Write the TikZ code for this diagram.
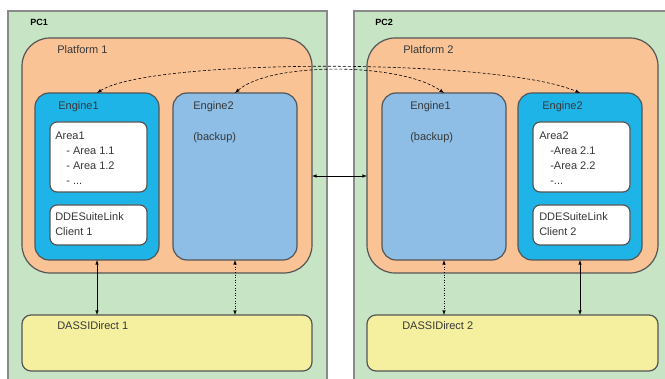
\documentclass[tikz,border=0pt]{standalone}
\usepackage{fontspec}
\setmainfont{Liberation Sans}
\usepackage{tikz}
\usetikzlibrary{positioning}
\usetikzlibrary{arrows}

\definecolor{pcgreen}{RGB}{199,228,197}
\definecolor{pcgray}{RGB}{138,138,138}
\definecolor{boxgray}{RGB}{85,85,85}
\definecolor{platorange}{RGB}{250,195,150}
\definecolor{enginecyan}{RGB}{30,180,232}
\definecolor{backupblue}{RGB}{142,190,230}
\definecolor{dassiyellow}{RGB}{244,240,160}
\definecolor{txtgray}{RGB}{55,55,55}

\begin{document}
\begin{tikzpicture}[x=1pt,y=-1pt,>=latex,semithick,
  box/.style={draw=boxgray,line width=1.2pt,anchor=north west,inner sep=0pt,outer sep=0pt},
  pc/.style={draw=pcgray,line width=1.6pt,fill=pcgreen,anchor=north west,inner sep=0pt,minimum width=319pt,minimum height=380pt},
  platform/.style={box,fill=platorange,rounded corners=28pt,minimum width=290pt,minimum height=235pt},
  engine/.style={box,fill=enginecyan,rounded corners=14pt,minimum width=124pt,minimum height=167pt},
  backup/.style={engine,fill=backupblue},
  area/.style={box,fill=white,rounded corners=7pt,minimum width=97pt},
  dassi/.style={box,fill=dassiyellow,rounded corners=9pt,minimum width=290pt,minimum height=56pt},
  lbl/.style={font=\fontsize{11}{15}\selectfont,text=txtgray,inner sep=0pt,anchor=base west},
  lines/.style={lbl,align=left,anchor=north west},
  pclbl/.style={font=\fontsize{9}{11}\selectfont\bfseries,inner sep=0pt,anchor=base west}]
\useasboundingbox (0,0) rectangle (665,379);
\clip (0,0) rectangle (665,379);

% PC1
\node[pc]       (PC1) at (7,10)     {};
\node[platform] (P1)  at (22,38)    {};
\node[engine]   (E1L) at (35,93)    {};
\node[backup]   (E2L) at (173,93)   {};
\node[area,minimum height=70pt] (A1) at (50,122)  {};
\node[area,minimum height=40pt] (C1) at (50,205)  {};
\node[dassi]    (D1)  at (22,315)   {};

% PC2
\node[pc]       (PC2) at (353,10)   {};
\node[platform,minimum width=291pt] (P2) at (367,38) {};
\node[backup]   (E1R) at (382,93)   {};
\node[engine]   (E2R) at (518,93)   {};
\node[area,minimum height=70pt] (A2) at (533,122) {};
\node[area,minimum height=40pt] (C2) at (533,205) {};
\node[dassi,minimum width=291pt] (D2) at (367,315) {};

% labels
\node[pclbl] (pc1txt) at (30,25.5)  {PC1};
\node[pclbl] (pc2txt) at (375,25.5) {PC2};
\node[lbl] (p1txt)  at (57,54)   {Platform 1};
\node[lbl] (p2txt)  at (403,54)  {Platform 2};
\node[lbl] (e1ltxt) at (58,110)  {Engine1};
\node[lbl] (e2ltxt) at (193,110) {Engine2};
\node[lbl] (b1txt)  at (193,141) {(backup)};
\node[lbl] (e1rtxt) at (410,110) {Engine1};
\node[lbl] (b2txt)  at (410,141) {(backup)};
\node[lbl] (e2rtxt) at (542,110) {Engine2};
\node[lines] (a1txt) at (55,132) {Area1\\\quad- Area 1.1\\\quad- Area 1.2\\\quad- ...};
\node[lines] (c1txt) at (55,212) {DDESuiteLink\\Client 1};
\node[lines] (a2txt) at (539,132) {Area2\\\quad-Area 2.1\\\quad-Area 2.2\\\quad-...};
\node[lines] (c2txt) at (539,212) {DDESuiteLink\\Client 2};
\node[lbl] (d1txt)  at (57,330)  {DASSIDirect 1};
\node[lbl] (d2txt)  at (402,330) {DASSIDirect 2};

% links
\path[<->] (E1L.south) edge (E1L.south |- D1.north)
      (E2L.south) edge [dotted] (E2L.south |- D1.north)
      (E1R.south) edge [dotted] (E1R.south |- D2.north)
      (E2R.south) edge (E2R.south |- D2.north)
      ([yshift=-20.5pt]P1.east) edge ([yshift=-20.5pt]P2.west);

\draw[<->,dash pattern=on 3pt off 2pt] (E1L.north) .. controls (150,58) and (500,58) .. (E2R.north);
\draw[<->,dash pattern=on 3pt off 2pt] (E2L.north) .. controls (270,62) and (400,62) .. (E1R.north);

\end{tikzpicture}
\end{document}
